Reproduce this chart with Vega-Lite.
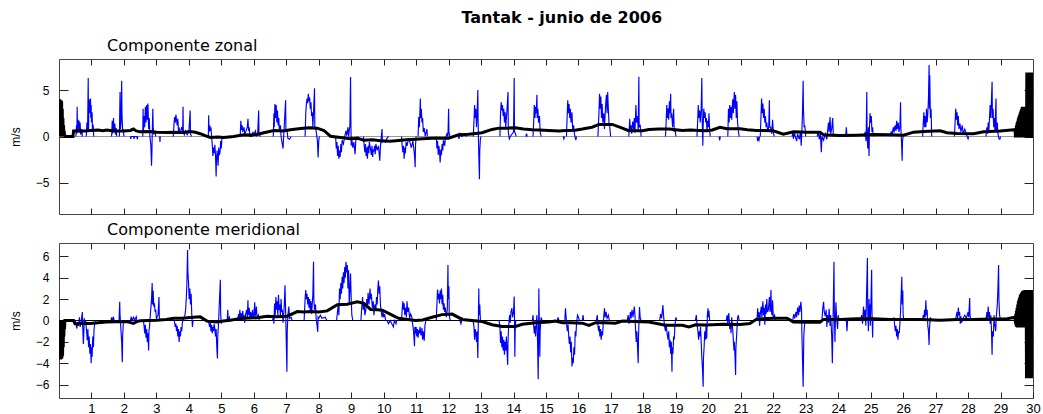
{
"$schema":"https://vega.github.io/schema/vega-lite/v6.json",
"background":"white",
"padding":{"left":8,"top":10,"right":6,"bottom":0},
"title":{"text":"Tantak - junio de 2006","font":"DejaVu Sans","fontSize":16,"fontWeight":"bold","color":"#000","anchor":"middle","dx":37,"offset":11},
"config":{"view":{"stroke":"#444","strokeWidth":1},"axis":{"labelFont":"Liberation Sans","titleFont":"Liberation Sans","labelColor":"#000","titleColor":"#000","tickColor":"#222","grid":false,"domain":false}},
"spacing":6,
"datasets":{
"ub":[
{"t":0.52,"u":0,"s":1},{"t":0.54,"u":1.2,"s":1},{"t":0.55,"u":0.3,"s":1},{"t":0.56,"u":3.2,"s":1},{"t":0.57,"u":0.5,"s":1},{"t":0.59,"u":1.8,"s":1},{"t":0.6,"u":0.8,"s":1},{"t":0.62,"u":1.7,"s":1},{"t":0.63,"u":0.4,"s":1},{"t":0.65,"u":1.5,"s":1},{"t":0.67,"u":0.2,"s":1},{"t":0.7,"u":0.8,"s":1},{"t":0.72,"u":0,"s":1},
{"t":0.84,"u":0,"s":2},{"t":0.86,"u":1.5,"s":2},{"t":0.88,"u":0.6,"s":2},{"t":0.9,"u":6.3,"s":2},{"t":0.91,"u":0.5,"s":2},{"t":0.92,"u":3.5,"s":2},{"t":0.93,"u":4.0,"s":2},{"t":0.94,"u":2.5,"s":2},{"t":0.95,"u":3.7,"s":2},{"t":0.96,"u":3.0,"s":2},{"t":0.97,"u":4.1,"s":2},{"t":0.98,"u":2.0,"s":2},{"t":0.99,"u":3.4,"s":2},{"t":1.0,"u":1.5,"s":2},{"t":1.02,"u":2.6,"s":2},{"t":1.03,"u":0.5,"s":2},{"t":1.05,"u":1.3,"s":2},{"t":1.07,"u":0,"s":2},
{"t":1.62,"u":0,"s":3},{"t":1.64,"u":1.7,"s":3},{"t":1.65,"u":0.3,"s":3},{"t":1.68,"u":2.0,"s":3},{"t":1.69,"u":0.5,"s":3},{"t":1.72,"u":1.4,"s":3},{"t":1.74,"u":0.2,"s":3},{"t":1.76,"u":0.9,"s":3},{"t":1.78,"u":0,"s":3},
{"t":1.86,"u":0,"s":4},{"t":1.88,"u":4.8,"s":4},{"t":1.89,"u":0.8,"s":4},{"t":1.91,"u":1.5,"s":4},{"t":1.93,"u":6.0,"s":4},{"t":1.94,"u":2.5,"s":4},{"t":1.96,"u":0.6,"s":4},{"t":1.98,"u":0.8,"s":4},{"t":2.0,"u":0,"s":4},
{"t":2.2,"u":0,"s":5},{"t":2.21,"u":-0.25,"s":5},{"t":2.23,"u":0,"s":5},{"t":2.3,"u":0,"s":5},{"t":2.31,"u":-0.25,"s":5},{"t":2.33,"u":0,"s":5},{"t":2.4,"u":0,"s":5},{"t":2.41,"u":-0.3,"s":5},{"t":2.43,"u":0,"s":5},
{"t":2.58,"u":0,"s":6},{"t":2.59,"u":3.0,"s":6},{"t":2.6,"u":0.5,"s":6},{"t":2.62,"u":2.2,"s":6},{"t":2.64,"u":1.0,"s":6},{"t":2.66,"u":3.2,"s":6},{"t":2.68,"u":1.5,"s":6},{"t":2.7,"u":3.4,"s":6},{"t":2.72,"u":1.8,"s":6},{"t":2.74,"u":3.55,"s":6},{"t":2.76,"u":0.8,"s":6},{"t":2.78,"u":2.0,"s":6},{"t":2.8,"u":0,"s":6},{"t":2.83,"u":-1.0,"s":6},{"t":2.85,"u":-3.15,"s":6},{"t":2.86,"u":-2.0,"s":6},{"t":2.87,"u":0,"s":6},{"t":2.89,"u":3.0,"s":6},{"t":2.9,"u":1.0,"s":6},{"t":2.92,"u":0.3,"s":6},{"t":2.96,"u":0.5,"s":6},{"t":2.98,"u":0,"s":6},
{"t":3.1,"u":0,"s":7},{"t":3.11,"u":-0.6,"s":7},{"t":3.12,"u":0,"s":7},
{"t":3.52,"u":0,"s":8},{"t":3.54,"u":1.2,"s":8},{"t":3.56,"u":2.1,"s":8},{"t":3.58,"u":1.5,"s":8},{"t":3.6,"u":2.35,"s":8},{"t":3.62,"u":1.8,"s":8},{"t":3.64,"u":1.2,"s":8},{"t":3.66,"u":1.9,"s":8},{"t":3.68,"u":0.6,"s":8},{"t":3.7,"u":1.0,"s":8},{"t":3.72,"u":0.3,"s":8},{"t":3.75,"u":0.6,"s":8},{"t":3.78,"u":1.0,"s":8},{"t":3.81,"u":0.5,"s":8},{"t":3.82,"u":3.2,"s":8},{"t":3.83,"u":0.5,"s":8},{"t":3.86,"u":0.2,"s":8},{"t":3.9,"u":0.6,"s":8},{"t":3.95,"u":0.2,"s":8},{"t":4.0,"u":0.5,"s":8},{"t":4.04,"u":2.8,"s":8},{"t":4.05,"u":0.3,"s":8},{"t":4.08,"u":0,"s":8},
{"t":4.6,"u":0,"s":9},{"t":4.61,"u":2.3,"s":9},{"t":4.62,"u":0.5,"s":9},{"t":4.64,"u":1.2,"s":9},{"t":4.66,"u":0.6,"s":9},{"t":4.68,"u":1.0,"s":9},{"t":4.7,"u":0,"s":9},{"t":4.72,"u":-0.8,"s":9},{"t":4.74,"u":-2.1,"s":9},{"t":4.76,"u":-1.2,"s":9},{"t":4.78,"u":-1.8,"s":9},{"t":4.8,"u":-0.9,"s":9},{"t":4.82,"u":-2.0,"s":9},{"t":4.84,"u":-4.3,"s":9},{"t":4.85,"u":-2.5,"s":9},{"t":4.87,"u":-1.5,"s":9},{"t":4.9,"u":-3.15,"s":9},{"t":4.92,"u":-1.2,"s":9},{"t":4.94,"u":-2.0,"s":9},{"t":4.96,"u":-1.7,"s":9},{"t":4.98,"u":-0.5,"s":9},{"t":5.0,"u":-1.3,"s":9},{"t":5.02,"u":0,"s":9},
{"t":5.58,"u":0,"s":10},{"t":5.6,"u":1.7,"s":10},{"t":5.62,"u":0.7,"s":10},{"t":5.64,"u":1.2,"s":10},{"t":5.66,"u":0.5,"s":10},{"t":5.7,"u":1.0,"s":10},{"t":5.72,"u":0.3,"s":10},{"t":5.76,"u":0.6,"s":10},{"t":5.8,"u":1.0,"s":10},{"t":5.82,"u":1.9,"s":10},{"t":5.84,"u":0.6,"s":10},{"t":5.86,"u":1.0,"s":10},{"t":5.88,"u":0,"s":10},{"t":5.95,"u":0,"s":10},{"t":5.97,"u":0.5,"s":10},{"t":6.0,"u":0.2,"s":10},{"t":6.05,"u":0.6,"s":10},{"t":6.08,"u":0.1,"s":10},{"t":6.12,"u":0.4,"s":10},{"t":6.15,"u":2.8,"s":10},{"t":6.16,"u":0.3,"s":10},{"t":6.2,"u":0,"s":10},
{"t":6.6,"u":0,"s":11},{"t":6.62,"u":2.5,"s":11},{"t":6.63,"u":1.0,"s":11},{"t":6.65,"u":3.5,"s":11},{"t":6.67,"u":2.0,"s":11},{"t":6.69,"u":3.4,"s":11},{"t":6.71,"u":1.5,"s":11},{"t":6.73,"u":2.8,"s":11},{"t":6.75,"u":1.2,"s":11},{"t":6.77,"u":2.0,"s":11},{"t":6.79,"u":0.5,"s":11},{"t":6.82,"u":1.2,"s":11},{"t":6.84,"u":0,"s":11},{"t":6.9,"u":-1.3,"s":11},{"t":6.92,"u":0,"s":11},{"t":6.98,"u":3.9,"s":11},{"t":6.99,"u":0.5,"s":11},{"t":7.02,"u":0.8,"s":11},{"t":7.05,"u":-0.2,"s":11},{"t":7.1,"u":-0.3,"s":11},{"t":7.15,"u":0,"s":11},
{"t":7.58,"u":0,"s":12},{"t":7.6,"u":2.5,"s":12},{"t":7.62,"u":3.5,"s":12},{"t":7.64,"u":4.1,"s":12},{"t":7.66,"u":3.6,"s":12},{"t":7.68,"u":4.6,"s":12},{"t":7.7,"u":3.8,"s":12},{"t":7.72,"u":4.2,"s":12},{"t":7.74,"u":3.0,"s":12},{"t":7.76,"u":3.7,"s":12},{"t":7.78,"u":2.2,"s":12},{"t":7.8,"u":2.6,"s":12},{"t":7.82,"u":1.0,"s":12},{"t":7.87,"u":5.2,"s":12},{"t":7.88,"u":1.0,"s":12},{"t":7.92,"u":0.6,"s":12},{"t":7.96,"u":-0.5,"s":12},{"t":7.98,"u":-2.25,"s":12},{"t":8.0,"u":-0.5,"s":12},{"t":8.02,"u":0,"s":12},
{"t":8.52,"u":0,"s":13},{"t":8.54,"u":-1.3,"s":13},{"t":8.56,"u":-0.6,"s":13},{"t":8.58,"u":-2.1,"s":13},{"t":8.6,"u":-1.0,"s":13},{"t":8.62,"u":-2.4,"s":13},{"t":8.64,"u":-1.5,"s":13},{"t":8.66,"u":-2.2,"s":13},{"t":8.68,"u":-0.8,"s":13},{"t":8.7,"u":-1.7,"s":13},{"t":8.72,"u":-0.4,"s":13},{"t":8.76,"u":-0.8,"s":13},{"t":8.8,"u":0,"s":13},{"t":8.84,"u":0.6,"s":13},{"t":8.86,"u":0.1,"s":13},{"t":8.9,"u":1.0,"s":13},{"t":8.92,"u":0,"s":13},{"t":8.96,"u":1.2,"s":13},{"t":8.98,"u":6.4,"s":13},{"t":8.99,"u":2.0,"s":13},{"t":9.0,"u":-1.0,"s":13},{"t":9.01,"u":0,"s":13},{"t":9.05,"u":-1.2,"s":13},{"t":9.08,"u":-0.6,"s":13},{"t":9.12,"u":-1.9,"s":13},{"t":9.14,"u":-0.5,"s":13},{"t":9.18,"u":0,"s":13},
{"t":9.38,"u":0,"s":14},{"t":9.4,"u":-1.0,"s":14},{"t":9.42,"u":-1.7,"s":14},{"t":9.44,"u":-0.8,"s":14},{"t":9.46,"u":-2.1,"s":14},{"t":9.48,"u":-1.2,"s":14},{"t":9.5,"u":-2.4,"s":14},{"t":9.52,"u":-1.0,"s":14},{"t":9.54,"u":-1.8,"s":14},{"t":9.56,"u":-0.6,"s":14},{"t":9.6,"u":-1.5,"s":14},{"t":9.62,"u":-2.0,"s":14},{"t":9.64,"u":-1.0,"s":14},{"t":9.66,"u":-2.2,"s":14},{"t":9.68,"u":-1.4,"s":14},{"t":9.7,"u":-1.6,"s":14},{"t":9.72,"u":-1.0,"s":14},{"t":9.74,"u":-1.9,"s":14},{"t":9.76,"u":-0.8,"s":14},{"t":9.8,"u":-1.5,"s":14},{"t":9.84,"u":-1.0,"s":14},{"t":9.88,"u":-2.6,"s":14},{"t":9.9,"u":-1.2,"s":14},{"t":9.92,"u":-0.3,"s":14},{"t":9.95,"u":0.8,"s":14},{"t":9.96,"u":-0.6,"s":14},{"t":10.0,"u":-0.4,"s":14},{"t":10.05,"u":-0.6,"s":14},{"t":10.1,"u":-0.2,"s":14},{"t":10.15,"u":0,"s":14},
{"t":10.55,"u":0,"s":15},{"t":10.57,"u":-1.0,"s":15},{"t":10.59,"u":-1.7,"s":15},{"t":10.61,"u":-1.0,"s":15},{"t":10.63,"u":-2.4,"s":15},{"t":10.65,"u":-1.2,"s":15},{"t":10.67,"u":-1.8,"s":15},{"t":10.69,"u":-0.6,"s":15},{"t":10.72,"u":-1.0,"s":15},{"t":10.76,"u":-0.3,"s":15},{"t":10.8,"u":-0.5,"s":15},{"t":10.85,"u":-1.2,"s":15},{"t":10.9,"u":-0.5,"s":15},{"t":10.95,"u":-2.0,"s":15},{"t":10.97,"u":-3.3,"s":15},{"t":10.98,"u":-1.0,"s":15},{"t":11.0,"u":0,"s":15},
{"t":11.06,"u":0,"s":16},{"t":11.08,"u":2.1,"s":16},{"t":11.1,"u":1.0,"s":16},{"t":11.13,"u":4.1,"s":16},{"t":11.14,"u":2.0,"s":16},{"t":11.16,"u":3.0,"s":16},{"t":11.18,"u":1.5,"s":16},{"t":11.2,"u":2.0,"s":16},{"t":11.22,"u":0.5,"s":16},{"t":11.25,"u":0.9,"s":16},{"t":11.28,"u":0,"s":16},{"t":11.33,"u":0.8,"s":16},{"t":11.35,"u":0,"s":16},
{"t":11.62,"u":0,"s":17},{"t":11.64,"u":-1.3,"s":17},{"t":11.66,"u":-0.5,"s":17},{"t":11.68,"u":-2.0,"s":17},{"t":11.7,"u":-1.0,"s":17},{"t":11.72,"u":-1.6,"s":17},{"t":11.74,"u":-2.8,"s":17},{"t":11.76,"u":-1.4,"s":17},{"t":11.78,"u":-2.0,"s":17},{"t":11.8,"u":-0.8,"s":17},{"t":11.82,"u":-1.5,"s":17},{"t":11.84,"u":-0.4,"s":17},{"t":11.88,"u":-1.0,"s":17},{"t":11.9,"u":-0.2,"s":17},{"t":11.95,"u":0.3,"s":17},{"t":11.98,"u":0,"s":17},{"t":12.0,"u":3.0,"s":17},{"t":12.01,"u":0.5,"s":17},{"t":12.04,"u":0,"s":17},
{"t":12.3,"u":0,"s":18},{"t":12.32,"u":-0.25,"s":18},{"t":12.35,"u":0.3,"s":18},{"t":12.4,"u":0,"s":18},{"t":12.5,"u":0.2,"s":18},{"t":12.55,"u":0,"s":18},
{"t":12.76,"u":0,"s":19},{"t":12.78,"u":1.5,"s":19},{"t":12.8,"u":3.4,"s":19},{"t":12.82,"u":2.0,"s":19},{"t":12.84,"u":3.0,"s":19},{"t":12.86,"u":1.0,"s":19},{"t":12.88,"u":2.5,"s":19},{"t":12.9,"u":5.0,"s":19},{"t":12.91,"u":1.5,"s":19},{"t":12.93,"u":-2.0,"s":19},{"t":12.95,"u":-4.6,"s":19},{"t":12.96,"u":-1.5,"s":19},{"t":12.98,"u":-0.25,"s":19},{"t":13.0,"u":0,"s":19},
{"t":13.58,"u":0,"s":20},{"t":13.6,"u":2.5,"s":20},{"t":13.62,"u":3.7,"s":20},{"t":13.64,"u":2.8,"s":20},{"t":13.66,"u":3.4,"s":20},{"t":13.68,"u":2.2,"s":20},{"t":13.7,"u":3.0,"s":20},{"t":13.72,"u":1.5,"s":20},{"t":13.74,"u":2.6,"s":20},{"t":13.76,"u":1.0,"s":20},{"t":13.78,"u":2.0,"s":20},{"t":13.8,"u":3.0,"s":20},{"t":13.83,"u":4.8,"s":20},{"t":13.84,"u":0.5,"s":20},{"t":13.87,"u":-0.25,"s":20},{"t":13.9,"u":0,"s":20},{"t":13.96,"u":0.3,"s":20},{"t":14.0,"u":0.5,"s":20},{"t":14.02,"u":6.3,"s":20},{"t":14.03,"u":0.5,"s":20},{"t":14.06,"u":0.3,"s":20},{"t":14.08,"u":0,"s":20},
{"t":14.38,"u":0,"s":21},{"t":14.4,"u":0.3,"s":21},{"t":14.42,"u":0,"s":21},
{"t":14.6,"u":0,"s":22},{"t":14.62,"u":1.5,"s":22},{"t":14.64,"u":3.4,"s":22},{"t":14.66,"u":2.0,"s":22},{"t":14.68,"u":3.2,"s":22},{"t":14.7,"u":2.5,"s":22},{"t":14.72,"u":4.5,"s":22},{"t":14.73,"u":2.0,"s":22},{"t":14.75,"u":3.0,"s":22},{"t":14.77,"u":1.5,"s":22},{"t":14.8,"u":2.2,"s":22},{"t":14.82,"u":0.5,"s":22},{"t":14.85,"u":0,"s":22},
{"t":15.53,"u":0,"s":23},{"t":15.55,"u":-0.25,"s":23},{"t":15.57,"u":0,"s":23},
{"t":15.63,"u":0,"s":24},{"t":15.65,"u":2.0,"s":24},{"t":15.67,"u":3.9,"s":24},{"t":15.69,"u":2.5,"s":24},{"t":15.71,"u":3.5,"s":24},{"t":15.73,"u":2.0,"s":24},{"t":15.75,"u":3.0,"s":24},{"t":15.77,"u":1.5,"s":24},{"t":15.8,"u":2.6,"s":24},{"t":15.82,"u":0.8,"s":24},{"t":15.85,"u":1.2,"s":24},{"t":15.88,"u":0.2,"s":24},{"t":15.92,"u":-0.4,"s":24},{"t":15.94,"u":0,"s":24},
{"t":16.6,"u":0,"s":25},{"t":16.63,"u":2.5,"s":25},{"t":16.65,"u":4.6,"s":25},{"t":16.67,"u":3.0,"s":25},{"t":16.69,"u":4.3,"s":25},{"t":16.71,"u":2.0,"s":25},{"t":16.73,"u":3.5,"s":25},{"t":16.75,"u":1.5,"s":25},{"t":16.78,"u":2.5,"s":25},{"t":16.8,"u":0.8,"s":25},{"t":16.83,"u":3.0,"s":25},{"t":16.86,"u":4.5,"s":25},{"t":16.88,"u":2.5,"s":25},{"t":16.9,"u":4.8,"s":25},{"t":16.92,"u":3.0,"s":25},{"t":16.94,"u":1.5,"s":25},{"t":16.96,"u":1.2,"s":25},{"t":16.99,"u":0,"s":25},
{"t":17.55,"u":0,"s":26},{"t":17.58,"u":1.9,"s":26},{"t":17.6,"u":0.5,"s":26},{"t":17.62,"u":1.2,"s":26},{"t":17.64,"u":0.3,"s":26},{"t":17.67,"u":1.6,"s":26},{"t":17.7,"u":0.8,"s":26},{"t":17.72,"u":2.0,"s":26},{"t":17.74,"u":0.4,"s":26},{"t":17.77,"u":3.4,"s":26},{"t":17.79,"u":1.5,"s":26},{"t":17.82,"u":2.2,"s":26},{"t":17.84,"u":0.5,"s":26},{"t":17.86,"u":6.45,"s":26},{"t":17.87,"u":1.0,"s":26},{"t":17.9,"u":1.3,"s":26},{"t":17.93,"u":0,"s":26},
{"t":18.68,"u":0,"s":27},{"t":18.7,"u":1.5,"s":27},{"t":18.72,"u":3.4,"s":27},{"t":18.74,"u":2.0,"s":27},{"t":18.76,"u":3.0,"s":27},{"t":18.78,"u":1.8,"s":27},{"t":18.8,"u":3.8,"s":27},{"t":18.82,"u":2.5,"s":27},{"t":18.84,"u":4.6,"s":27},{"t":18.85,"u":2.0,"s":27},{"t":18.87,"u":2.5,"s":27},{"t":18.9,"u":1.0,"s":27},{"t":18.93,"u":3.0,"s":27},{"t":18.95,"u":0.5,"s":27},{"t":18.98,"u":0.8,"s":27},{"t":19.0,"u":0,"s":27},
{"t":19.65,"u":0,"s":28},{"t":19.67,"u":1.5,"s":28},{"t":19.69,"u":3.4,"s":28},{"t":19.71,"u":2.0,"s":28},{"t":19.73,"u":2.8,"s":28},{"t":19.75,"u":1.5,"s":28},{"t":19.78,"u":3.0,"s":28},{"t":19.8,"u":6.3,"s":28},{"t":19.81,"u":2.0,"s":28},{"t":19.83,"u":-1.0,"s":28},{"t":19.84,"u":1.0,"s":28},{"t":19.86,"u":3.0,"s":28},{"t":19.88,"u":2.0,"s":28},{"t":19.9,"u":2.6,"s":28},{"t":19.92,"u":1.5,"s":28},{"t":19.94,"u":2.0,"s":28},{"t":19.96,"u":0.5,"s":28},{"t":19.98,"u":1.7,"s":28},{"t":20.0,"u":1.0,"s":28},{"t":20.02,"u":2.5,"s":28},{"t":20.04,"u":0.6,"s":28},{"t":20.06,"u":0,"s":28},
{"t":20.33,"u":0,"s":29},{"t":20.35,"u":-0.43,"s":29},{"t":20.37,"u":0,"s":29},
{"t":20.6,"u":0,"s":30},{"t":20.62,"u":3.0,"s":30},{"t":20.64,"u":1.5,"s":30},{"t":20.66,"u":3.4,"s":30},{"t":20.68,"u":2.0,"s":30},{"t":20.7,"u":3.2,"s":30},{"t":20.72,"u":1.8,"s":30},{"t":20.75,"u":4.0,"s":30},{"t":20.77,"u":2.5,"s":30},{"t":20.8,"u":4.8,"s":30},{"t":20.82,"u":3.0,"s":30},{"t":20.84,"u":4.5,"s":30},{"t":20.86,"u":2.0,"s":30},{"t":20.88,"u":3.8,"s":30},{"t":20.9,"u":1.5,"s":30},{"t":20.93,"u":0.5,"s":30},{"t":20.95,"u":0,"s":30},
{"t":21.5,"u":0,"s":31},{"t":21.52,"u":-0.5,"s":31},{"t":21.54,"u":-0.2,"s":31},{"t":21.56,"u":-0.4,"s":31},{"t":21.58,"u":0,"s":31},
{"t":21.6,"u":0,"s":32},{"t":21.62,"u":2.0,"s":32},{"t":21.64,"u":4.1,"s":32},{"t":21.66,"u":2.5,"s":32},{"t":21.68,"u":3.55,"s":32},{"t":21.7,"u":2.0,"s":32},{"t":21.72,"u":3.0,"s":32},{"t":21.74,"u":1.5,"s":32},{"t":21.76,"u":2.2,"s":32},{"t":21.78,"u":1.0,"s":32},{"t":21.8,"u":1.5,"s":32},{"t":21.83,"u":0.5,"s":32},{"t":21.86,"u":1.0,"s":32},{"t":21.88,"u":3.9,"s":32},{"t":21.89,"u":1.0,"s":32},{"t":21.92,"u":1.0,"s":32},{"t":21.95,"u":0.3,"s":32},{"t":21.98,"u":1.8,"s":32},{"t":22.0,"u":0.5,"s":32},{"t":22.03,"u":0,"s":32},
{"t":22.58,"u":0,"s":33},{"t":22.6,"u":0.5,"s":33},{"t":22.62,"u":-0.25,"s":33},{"t":22.65,"u":0.4,"s":33},{"t":22.68,"u":0,"s":33},{"t":22.72,"u":-0.5,"s":33},{"t":22.75,"u":0.3,"s":33},{"t":22.8,"u":-0.3,"s":33},{"t":22.84,"u":0.5,"s":33},{"t":22.86,"u":-1.0,"s":33},{"t":22.88,"u":0.5,"s":33},{"t":22.9,"u":2.5,"s":33},{"t":22.92,"u":6.0,"s":33},{"t":22.93,"u":3.0,"s":33},{"t":22.95,"u":1.0,"s":33},{"t":22.97,"u":1.2,"s":33},{"t":23.0,"u":0,"s":33},
{"t":23.35,"u":0,"s":34},{"t":23.38,"u":0.5,"s":34},{"t":23.42,"u":-0.3,"s":34},{"t":23.45,"u":0.5,"s":34},{"t":23.48,"u":-1.7,"s":34},{"t":23.5,"u":0,"s":34},{"t":23.55,"u":-0.4,"s":34},{"t":23.6,"u":0.3,"s":34},{"t":23.65,"u":-0.3,"s":34},{"t":23.7,"u":1.5,"s":34},{"t":23.72,"u":0.5,"s":34},{"t":23.75,"u":2.1,"s":34},{"t":23.77,"u":0.3,"s":34},{"t":23.8,"u":0.8,"s":34},{"t":23.83,"u":2.0,"s":34},{"t":23.85,"u":0.2,"s":34},{"t":23.88,"u":0,"s":34},
{"t":24.23,"u":0,"s":35},{"t":24.25,"u":1.0,"s":35},{"t":24.27,"u":0,"s":35},
{"t":24.8,"u":0,"s":36},{"t":24.83,"u":0.5,"s":36},{"t":24.86,"u":-0.5,"s":36},{"t":24.88,"u":4.8,"s":36},{"t":24.89,"u":0.5,"s":36},{"t":24.91,"u":-1.3,"s":36},{"t":24.93,"u":1.0,"s":36},{"t":24.95,"u":-2.1,"s":36},{"t":24.96,"u":0.5,"s":36},{"t":24.98,"u":2.5,"s":36},{"t":25.0,"u":1.5,"s":36},{"t":25.02,"u":2.2,"s":36},{"t":25.04,"u":0.5,"s":36},{"t":25.06,"u":1.0,"s":36},{"t":25.08,"u":0,"s":36},
{"t":25.6,"u":0,"s":37},{"t":25.63,"u":0.5,"s":37},{"t":25.66,"u":0.3,"s":37},{"t":25.7,"u":1.0,"s":37},{"t":25.72,"u":0.4,"s":37},{"t":25.75,"u":1.2,"s":37},{"t":25.78,"u":0.6,"s":37},{"t":25.8,"u":1.7,"s":37},{"t":25.82,"u":0.8,"s":37},{"t":25.85,"u":1.5,"s":37},{"t":25.87,"u":0.5,"s":37},{"t":25.9,"u":1.0,"s":37},{"t":25.92,"u":3.7,"s":37},{"t":25.93,"u":1.0,"s":37},{"t":25.95,"u":-0.5,"s":37},{"t":25.97,"u":-2.6,"s":37},{"t":25.98,"u":-0.5,"s":37},{"t":26.0,"u":0,"s":37},
{"t":26.6,"u":0,"s":38},{"t":26.62,"u":1.5,"s":38},{"t":26.64,"u":2.6,"s":38},{"t":26.66,"u":1.0,"s":38},{"t":26.68,"u":2.2,"s":38},{"t":26.7,"u":1.0,"s":38},{"t":26.72,"u":3.0,"s":38},{"t":26.74,"u":1.5,"s":38},{"t":26.76,"u":2.5,"s":38},{"t":26.78,"u":4.0,"s":38},{"t":26.8,"u":7.7,"s":38},{"t":26.81,"u":3.0,"s":38},{"t":26.82,"u":6.6,"s":38},{"t":26.84,"u":2.0,"s":38},{"t":26.86,"u":3.0,"s":38},{"t":26.88,"u":0,"s":38},
{"t":27.58,"u":0,"s":39},{"t":27.6,"u":1.5,"s":39},{"t":27.62,"u":3.0,"s":39},{"t":27.64,"u":1.8,"s":39},{"t":27.66,"u":2.6,"s":39},{"t":27.68,"u":1.2,"s":39},{"t":27.7,"u":2.2,"s":39},{"t":27.72,"u":0.8,"s":39},{"t":27.75,"u":1.4,"s":39},{"t":27.78,"u":0.5,"s":39},{"t":27.82,"u":1.2,"s":39},{"t":27.85,"u":0.3,"s":39},{"t":27.9,"u":0.8,"s":39},{"t":27.95,"u":0.2,"s":39},{"t":28.0,"u":-0.25,"s":39},{"t":28.02,"u":0,"s":39},
{"t":28.55,"u":0,"s":40},{"t":28.58,"u":1.0,"s":40},{"t":28.6,"u":0.3,"s":40},{"t":28.62,"u":1.5,"s":40},{"t":28.64,"u":0.5,"s":40},{"t":28.66,"u":2.0,"s":40},{"t":28.68,"u":3.4,"s":40},{"t":28.7,"u":2.0,"s":40},{"t":28.74,"u":5.9,"s":40},{"t":28.75,"u":2.0,"s":40},{"t":28.77,"u":3.0,"s":40},{"t":28.79,"u":1.0,"s":40},{"t":28.81,"u":2.0,"s":40},{"t":28.83,"u":0.5,"s":40},{"t":28.86,"u":4.1,"s":40},{"t":28.87,"u":0.5,"s":40},{"t":28.9,"u":1.5,"s":40},{"t":28.92,"u":0.3,"s":40},{"t":28.95,"u":-0.25,"s":40},{"t":28.98,"u":-0.3,"s":40},{"t":29.0,"u":0,"s":40}
],
"um":[
{"t":0,"u":4.0},{"t":0.01,"u":0},{"t":0.02,"u":4.0},{"t":0.03,"u":0},{"t":0.04,"u":3.9},{"t":0.05,"u":0},{"t":0.06,"u":3.9},{"t":0.07,"u":0},{"t":0.08,"u":3.8},{"t":0.09,"u":0},{"t":0.1,"u":3.0},{"t":0.11,"u":0},{"t":0.12,"u":2.0},{"t":0.13,"u":0},{"t":0.14,"u":1.2},{"t":0.15,"u":0},{"t":0.16,"u":0.6},{"t":0.17,"u":0},{"t":0.18,"u":0.2},{"t":0.19,"u":0},{"t":0.43,"u":0},{"t":0.45,"u":0.6},{"t":0.6,"u":0.62},{"t":0.8,"u":0.58},{"t":0.96,"u":0.65},{"t":1.2,"u":0.7},{"t":1.35,"u":0.62},{"t":1.47,"u":0.69},{"t":1.7,"u":0.6},{"t":1.99,"u":0.58},{"t":2.2,"u":0.65},{"t":2.29,"u":0.8},{"t":2.38,"u":0.6},{"t":2.5,"u":0.5},{"t":2.8,"u":0.55},{"t":3.01,"u":0.47},{"t":3.3,"u":0.42},{"t":3.53,"u":0.47},{"t":3.8,"u":0.42},{"t":4.04,"u":0.54},{"t":4.2,"u":0.45},{"t":4.35,"u":0.3},{"t":4.5,"u":0.1},{"t":4.66,"u":-0.1},{"t":4.9,"u":-0.05},{"t":5.07,"u":-0.1},{"t":5.38,"u":0},{"t":5.69,"u":0.18},{"t":5.9,"u":0.15},{"t":6.1,"u":0.22},{"t":6.31,"u":0.4},{"t":6.62,"u":0.65},{"t":6.9,"u":0.6},{"t":7.13,"u":0.72},{"t":7.44,"u":0.87},{"t":7.7,"u":0.95},{"t":7.95,"u":0.9},{"t":8.16,"u":0.65},{"t":8.36,"u":0.03},{"t":8.67,"u":-0.1},{"t":8.98,"u":-0.25},{"t":9.2,"u":-0.2},{"t":9.39,"u":-0.4},{"t":9.65,"u":-0.35},{"t":9.91,"u":-0.47},{"t":10.2,"u":-0.5},{"t":10.46,"u":-0.43},{"t":10.7,"u":-0.35},{"t":10.98,"u":-0.3},{"t":11.2,"u":-0.25},{"t":11.49,"u":-0.18},{"t":11.75,"u":-0.2},{"t":12.0,"u":-0.18},{"t":12.31,"u":0.18},{"t":12.62,"u":0.25},{"t":13.03,"u":0.4},{"t":13.34,"u":0.76},{"t":13.55,"u":0.9},{"t":13.8,"u":0.9},{"t":14.06,"u":0.94},{"t":14.3,"u":0.8},{"t":14.57,"u":0.72},{"t":14.8,"u":0.7},{"t":15.09,"u":0.65},{"t":15.4,"u":0.58},{"t":15.6,"u":0.65},{"t":15.9,"u":0.68},{"t":16.12,"u":0.8},{"t":16.42,"u":1.0},{"t":16.63,"u":1.3},{"t":17.04,"u":1.3},{"t":17.35,"u":0.9},{"t":17.55,"u":0.62},{"t":17.97,"u":0.62},{"t":18.17,"u":0.76},{"t":18.48,"u":0.8},{"t":18.79,"u":0.8},{"t":19.2,"u":0.65},{"t":19.45,"u":0.7},{"t":19.71,"u":0.65},{"t":19.95,"u":0.62},{"t":20.12,"u":0.7},{"t":20.36,"u":1.0},{"t":20.57,"u":0.83},{"t":20.98,"u":0.83},{"t":21.2,"u":0.72},{"t":21.49,"u":0.65},{"t":22.0,"u":0.62},{"t":22.31,"u":0.25},{"t":22.62,"u":0.5},{"t":23.03,"u":0.47},{"t":23.44,"u":0.47},{"t":23.55,"u":0.18},{"t":24.06,"u":0.1},{"t":24.57,"u":0.14},{"t":25.09,"u":0.22},{"t":25.6,"u":0.18},{"t":26.01,"u":0.14},{"t":26.32,"u":0.47},{"t":26.63,"u":0.55},{"t":27.14,"u":0.62},{"t":27.35,"u":0.4},{"t":27.66,"u":0.33},{"t":28.17,"u":0.3},{"t":28.48,"u":0.5},{"t":28.99,"u":0.58},{"t":29.4,"u":0.72},
{"t":29.45,"u":0.6},{"t":29.46,"u":-0.1},{"t":29.47,"u":0.9},{"t":29.48,"u":-0.1},{"t":29.49,"u":1.2},{"t":29.5,"u":-0.1},{"t":29.51,"u":1.5},{"t":29.52,"u":-0.1},{"t":29.53,"u":1.7},{"t":29.54,"u":-0.1},{"t":29.55,"u":2.0},{"t":29.56,"u":-0.1},{"t":29.57,"u":2.2},{"t":29.58,"u":-0.1},{"t":29.59,"u":2.4},{"t":29.6,"u":-0.1},{"t":29.61,"u":2.6},{"t":29.62,"u":-0.1},{"t":29.63,"u":2.8},{"t":29.64,"u":-0.1},{"t":29.65,"u":3.0},{"t":29.66,"u":-0.1},{"t":29.67,"u":3.2},{"t":29.68,"u":-0.1},{"t":29.69,"u":3.2},{"t":29.7,"u":-0.1},{"t":29.71,"u":3.2},{"t":29.72,"u":-0.1},{"t":29.73,"u":3.2},{"t":29.74,"u":-0.1},{"t":29.75,"u":3.2},{"t":29.76,"u":-0.1},{"t":29.77,"u":3.2},{"t":29.78,"u":-0.1},{"t":29.79,"u":3.2},{"t":29.8,"u":-0.1},{"t":29.81,"u":6.9},{"t":29.82,"u":-0.15},{"t":29.83,"u":6.9},{"t":29.84,"u":-0.15},{"t":29.85,"u":6.9},{"t":29.86,"u":-0.15},{"t":29.87,"u":6.9},{"t":29.88,"u":-0.15},{"t":29.89,"u":6.9},{"t":29.9,"u":-0.15},{"t":29.91,"u":6.9},{"t":29.92,"u":-0.15},{"t":29.93,"u":6.9},{"t":29.94,"u":-0.15},{"t":29.95,"u":6.9},{"t":29.96,"u":-0.15},{"t":29.97,"u":6.9},{"t":29.98,"u":-0.15},{"t":29.99,"u":6.9},{"t":30.0,"u":0.5}
],
"vb":[
{"t":0.5,"v":0,"s":1},{"t":0.52,"v":-0.3,"s":1},{"t":0.55,"v":-0.75,"s":1},{"t":0.57,"v":-0.2,"s":1},{"t":0.6,"v":-0.5,"s":1},{"t":0.63,"v":0.3,"s":1},{"t":0.65,"v":-0.6,"s":1},{"t":0.68,"v":-0.2,"s":1},{"t":0.7,"v":0.3,"s":1},{"t":0.72,"v":0.8,"s":1},{"t":0.73,"v":-0.5,"s":1},{"t":0.75,"v":-2.2,"s":1},{"t":0.76,"v":-1.5,"s":1},{"t":0.78,"v":0.2,"s":1},{"t":0.8,"v":-0.4,"s":1},{"t":0.82,"v":0,"s":1},{"t":0.85,"v":-1.0,"s":1},{"t":0.87,"v":-1.85,"s":1},{"t":0.89,"v":-0.8,"s":1},{"t":0.91,"v":-2.5,"s":1},{"t":0.93,"v":-1.5,"s":1},{"t":0.95,"v":-3.1,"s":1},{"t":0.97,"v":-2.2,"s":1},{"t":0.99,"v":-4.0,"s":1},{"t":1.0,"v":-2.5,"s":1},{"t":1.02,"v":-3.4,"s":1},{"t":1.04,"v":-1.5,"s":1},{"t":1.06,"v":-2.5,"s":1},{"t":1.08,"v":-0.8,"s":1},{"t":1.1,"v":-0.3,"s":1},{"t":1.12,"v":0,"s":1},
{"t":1.6,"v":0,"s":2},{"t":1.62,"v":0.3,"s":2},{"t":1.64,"v":-0.2,"s":2},{"t":1.67,"v":0.35,"s":2},{"t":1.7,"v":0,"s":2},{"t":1.85,"v":0,"s":2},{"t":1.87,"v":1.75,"s":2},{"t":1.88,"v":0.5,"s":2},{"t":1.9,"v":-0.5,"s":2},{"t":1.93,"v":-2.0,"s":2},{"t":1.95,"v":-3.9,"s":2},{"t":1.96,"v":-1.5,"s":2},{"t":1.98,"v":-0.3,"s":2},{"t":2.0,"v":0,"s":2},
{"t":2.2,"v":0,"s":3},{"t":2.23,"v":0.35,"s":3},{"t":2.25,"v":0,"s":3},{"t":2.3,"v":0.3,"s":3},{"t":2.33,"v":0,"s":3},{"t":2.38,"v":0.35,"s":3},{"t":2.4,"v":0,"s":3},
{"t":2.6,"v":0,"s":4},{"t":2.62,"v":-0.5,"s":4},{"t":2.64,"v":-1.2,"s":4},{"t":2.66,"v":-0.4,"s":4},{"t":2.68,"v":-1.6,"s":4},{"t":2.7,"v":-0.8,"s":4},{"t":2.72,"v":-2.0,"s":4},{"t":2.74,"v":-1.2,"s":4},{"t":2.76,"v":-2.8,"s":4},{"t":2.77,"v":-1.0,"s":4},{"t":2.79,"v":-0.5,"s":4},{"t":2.82,"v":0.8,"s":4},{"t":2.85,"v":2.0,"s":4},{"t":2.87,"v":3.5,"s":4},{"t":2.88,"v":1.5,"s":4},{"t":2.9,"v":2.8,"s":4},{"t":2.92,"v":1.3,"s":4},{"t":2.94,"v":1.6,"s":4},{"t":2.96,"v":0.8,"s":4},{"t":2.98,"v":1.0,"s":4},{"t":3.0,"v":0.2,"s":4},{"t":3.05,"v":0.5,"s":4},{"t":3.08,"v":2.2,"s":4},{"t":3.09,"v":0.3,"s":4},{"t":3.12,"v":0,"s":4},
{"t":3.55,"v":0,"s":5},{"t":3.58,"v":-0.6,"s":5},{"t":3.6,"v":-0.3,"s":5},{"t":3.62,"v":-1.0,"s":5},{"t":3.64,"v":-0.5,"s":5},{"t":3.66,"v":-1.5,"s":5},{"t":3.68,"v":-0.8,"s":5},{"t":3.7,"v":-2.0,"s":5},{"t":3.72,"v":-1.0,"s":5},{"t":3.74,"v":-1.5,"s":5},{"t":3.76,"v":-0.6,"s":5},{"t":3.78,"v":-1.0,"s":5},{"t":3.8,"v":-0.2,"s":5},{"t":3.85,"v":0.3,"s":5},{"t":3.88,"v":0.5,"s":5},{"t":3.9,"v":1.0,"s":5},{"t":3.92,"v":2.0,"s":5},{"t":3.94,"v":3.5,"s":5},{"t":3.96,"v":6.6,"s":5},{"t":3.97,"v":4.5,"s":5},{"t":3.99,"v":3.5,"s":5},{"t":4.01,"v":2.0,"s":5},{"t":4.03,"v":3.0,"s":5},{"t":4.05,"v":1.5,"s":5},{"t":4.07,"v":2.5,"s":5},{"t":4.09,"v":0.5,"s":5},{"t":4.11,"v":-0.6,"s":5},{"t":4.13,"v":0,"s":5},
{"t":4.6,"v":0,"s":6},{"t":4.62,"v":-0.3,"s":6},{"t":4.64,"v":-0.6,"s":6},{"t":4.66,"v":-0.2,"s":6},{"t":4.68,"v":-1.0,"s":6},{"t":4.7,"v":-0.4,"s":6},{"t":4.72,"v":-1.2,"s":6},{"t":4.74,"v":-0.6,"s":6},{"t":4.76,"v":-1.0,"s":6},{"t":4.78,"v":-0.3,"s":6},{"t":4.8,"v":-0.8,"s":6},{"t":4.82,"v":-1.5,"s":6},{"t":4.84,"v":-0.8,"s":6},{"t":4.86,"v":-2.5,"s":6},{"t":4.88,"v":-3.55,"s":6},{"t":4.89,"v":-1.5,"s":6},{"t":4.91,"v":-0.5,"s":6},{"t":4.93,"v":1.0,"s":6},{"t":4.97,"v":3.8,"s":6},{"t":4.98,"v":0.5,"s":6},{"t":5.0,"v":-0.3,"s":6},{"t":5.02,"v":0,"s":6},
{"t":5.18,"v":0,"s":7},{"t":5.2,"v":1.0,"s":7},{"t":5.21,"v":0,"s":7},{"t":5.25,"v":0.3,"s":7},{"t":5.27,"v":0,"s":7},
{"t":5.5,"v":0,"s":8},{"t":5.53,"v":0.6,"s":8},{"t":5.55,"v":0.2,"s":8},{"t":5.57,"v":1.0,"s":8},{"t":5.59,"v":0.3,"s":8},{"t":5.61,"v":0.7,"s":8},{"t":5.63,"v":0.1,"s":8},{"t":5.66,"v":0.9,"s":8},{"t":5.68,"v":0.3,"s":8},{"t":5.7,"v":0.5,"s":8},{"t":5.72,"v":-0.2,"s":8},{"t":5.75,"v":0.6,"s":8},{"t":5.78,"v":1.0,"s":8},{"t":5.8,"v":0.3,"s":8},{"t":5.82,"v":1.9,"s":8},{"t":5.83,"v":0.5,"s":8},{"t":5.86,"v":1.2,"s":8},{"t":5.88,"v":0.2,"s":8},{"t":5.9,"v":0.8,"s":8},{"t":5.93,"v":0.3,"s":8},{"t":5.96,"v":1.0,"s":8},{"t":5.98,"v":0.2,"s":8},{"t":6.0,"v":0.5,"s":8},{"t":6.03,"v":1.7,"s":8},{"t":6.04,"v":0.3,"s":8},{"t":6.08,"v":1.3,"s":8},{"t":6.1,"v":0.2,"s":8},{"t":6.14,"v":0.5,"s":8},{"t":6.17,"v":0,"s":8},
{"t":6.58,"v":0,"s":9},{"t":6.6,"v":0.5,"s":9},{"t":6.62,"v":-0.3,"s":9},{"t":6.64,"v":1.6,"s":9},{"t":6.66,"v":0.5,"s":9},{"t":6.68,"v":2.2,"s":9},{"t":6.7,"v":1.0,"s":9},{"t":6.72,"v":1.8,"s":9},{"t":6.74,"v":0.5,"s":9},{"t":6.76,"v":2.4,"s":9},{"t":6.78,"v":1.0,"s":9},{"t":6.8,"v":1.5,"s":9},{"t":6.82,"v":0.3,"s":9},{"t":6.84,"v":2.0,"s":9},{"t":6.86,"v":0.8,"s":9},{"t":6.88,"v":1.0,"s":9},{"t":6.9,"v":-0.2,"s":9},{"t":6.92,"v":0.5,"s":9},{"t":6.94,"v":1.5,"s":9},{"t":6.96,"v":3.3,"s":9},{"t":6.98,"v":1.0,"s":9},{"t":7.0,"v":-2.0,"s":9},{"t":7.02,"v":-4.8,"s":9},{"t":7.03,"v":-1.0,"s":9},{"t":7.05,"v":0.5,"s":9},{"t":7.08,"v":1.3,"s":9},{"t":7.1,"v":0.2,"s":9},{"t":7.15,"v":0.3,"s":9},{"t":7.18,"v":0,"s":9},
{"t":7.55,"v":0,"s":10},{"t":7.58,"v":2.0,"s":10},{"t":7.6,"v":2.85,"s":10},{"t":7.62,"v":2.0,"s":10},{"t":7.64,"v":2.5,"s":10},{"t":7.66,"v":1.5,"s":10},{"t":7.68,"v":2.2,"s":10},{"t":7.7,"v":1.2,"s":10},{"t":7.72,"v":2.0,"s":10},{"t":7.74,"v":0.8,"s":10},{"t":7.76,"v":1.8,"s":10},{"t":7.78,"v":0.6,"s":10},{"t":7.8,"v":1.5,"s":10},{"t":7.82,"v":2.5,"s":10},{"t":7.84,"v":5.5,"s":10},{"t":7.85,"v":2.0,"s":10},{"t":7.87,"v":1.0,"s":10},{"t":7.9,"v":1.5,"s":10},{"t":7.92,"v":0.2,"s":10},{"t":7.95,"v":-0.5,"s":10},{"t":7.97,"v":-1.06,"s":10},{"t":7.98,"v":0.3,"s":10},{"t":8.0,"v":0.2,"s":10},{"t":8.05,"v":0.5,"s":10},{"t":8.1,"v":0.2,"s":10},{"t":8.2,"v":0.3,"s":10},{"t":8.25,"v":0,"s":10},
{"t":8.55,"v":0,"s":11},{"t":8.6,"v":1.5,"s":11},{"t":8.62,"v":0.5,"s":11},{"t":8.64,"v":3.0,"s":11},{"t":8.66,"v":2.0,"s":11},{"t":8.68,"v":3.5,"s":11},{"t":8.7,"v":2.5,"s":11},{"t":8.72,"v":4.1,"s":11},{"t":8.74,"v":3.0,"s":11},{"t":8.76,"v":4.5,"s":11},{"t":8.78,"v":3.5,"s":11},{"t":8.8,"v":5.0,"s":11},{"t":8.82,"v":4.0,"s":11},{"t":8.84,"v":5.5,"s":11},{"t":8.86,"v":4.5,"s":11},{"t":8.88,"v":5.2,"s":11},{"t":8.9,"v":3.0,"s":11},{"t":8.92,"v":4.7,"s":11},{"t":8.94,"v":1.5,"s":11},{"t":8.96,"v":3.0,"s":11},{"t":8.98,"v":4.4,"s":11},{"t":9.0,"v":2.0,"s":11},{"t":9.02,"v":0.5,"s":11},{"t":9.05,"v":0,"s":11},
{"t":9.3,"v":0,"s":12},{"t":9.32,"v":1.0,"s":12},{"t":9.35,"v":2.2,"s":12},{"t":9.37,"v":1.0,"s":12},{"t":9.4,"v":1.6,"s":12},{"t":9.42,"v":0.5,"s":12},{"t":9.45,"v":1.0,"s":12},{"t":9.48,"v":2.0,"s":12},{"t":9.5,"v":1.2,"s":12},{"t":9.52,"v":2.6,"s":12},{"t":9.55,"v":1.5,"s":12},{"t":9.58,"v":3.0,"s":12},{"t":9.6,"v":2.0,"s":12},{"t":9.62,"v":2.5,"s":12},{"t":9.65,"v":1.2,"s":12},{"t":9.68,"v":1.8,"s":12},{"t":9.7,"v":0.5,"s":12},{"t":9.73,"v":1.5,"s":12},{"t":9.76,"v":1.0,"s":12},{"t":9.78,"v":2.2,"s":12},{"t":9.8,"v":1.5,"s":12},{"t":9.82,"v":3.0,"s":12},{"t":9.84,"v":3.75,"s":12},{"t":9.86,"v":2.5,"s":12},{"t":9.88,"v":3.2,"s":12},{"t":9.9,"v":1.5,"s":12},{"t":9.92,"v":1.0,"s":12},{"t":9.95,"v":0.3,"s":12},{"t":9.98,"v":0.85,"s":12},{"t":10.0,"v":0.3,"s":12},{"t":10.03,"v":0.6,"s":12},{"t":10.06,"v":0,"s":12},
{"t":10.1,"v":0,"s":13},{"t":10.15,"v":-0.3,"s":13},{"t":10.2,"v":0,"s":13},{"t":10.3,"v":-0.6,"s":13},{"t":10.33,"v":0,"s":13},{"t":10.38,"v":-0.3,"s":13},{"t":10.4,"v":0,"s":13},
{"t":10.55,"v":0,"s":14},{"t":10.57,"v":1.0,"s":14},{"t":10.59,"v":1.8,"s":14},{"t":10.61,"v":1.0,"s":14},{"t":10.63,"v":1.6,"s":14},{"t":10.65,"v":0.5,"s":14},{"t":10.68,"v":1.2,"s":14},{"t":10.7,"v":0.3,"s":14},{"t":10.72,"v":1.8,"s":14},{"t":10.74,"v":0.8,"s":14},{"t":10.77,"v":1.2,"s":14},{"t":10.8,"v":0.2,"s":14},{"t":10.83,"v":0.6,"s":14},{"t":10.86,"v":0.4,"s":14},{"t":10.9,"v":-0.5,"s":14},{"t":10.92,"v":-1.0,"s":14},{"t":10.95,"v":-2.4,"s":14},{"t":10.96,"v":-0.6,"s":14},{"t":10.98,"v":-1.2,"s":14},{"t":11.0,"v":-0.6,"s":14},{"t":11.02,"v":-1.5,"s":14},{"t":11.04,"v":-0.8,"s":14},{"t":11.06,"v":-1.6,"s":14},{"t":11.08,"v":-0.9,"s":14},{"t":11.1,"v":-1.2,"s":14},{"t":11.12,"v":-0.6,"s":14},{"t":11.15,"v":-1.4,"s":14},{"t":11.18,"v":-0.7,"s":14},{"t":11.2,"v":-1.8,"s":14},{"t":11.22,"v":-1.0,"s":14},{"t":11.25,"v":-1.9,"s":14},{"t":11.27,"v":-0.5,"s":14},{"t":11.3,"v":0,"s":14},
{"t":11.62,"v":0,"s":15},{"t":11.64,"v":1.5,"s":15},{"t":11.66,"v":2.9,"s":15},{"t":11.68,"v":2.0,"s":15},{"t":11.7,"v":2.5,"s":15},{"t":11.72,"v":1.6,"s":15},{"t":11.74,"v":2.8,"s":15},{"t":11.76,"v":2.0,"s":15},{"t":11.78,"v":3.0,"s":15},{"t":11.8,"v":1.5,"s":15},{"t":11.82,"v":2.4,"s":15},{"t":11.84,"v":1.0,"s":15},{"t":11.86,"v":1.6,"s":15},{"t":11.88,"v":0.8,"s":15},{"t":11.9,"v":1.2,"s":15},{"t":11.93,"v":0.3,"s":15},{"t":11.96,"v":1.0,"s":15},{"t":11.98,"v":5.2,"s":15},{"t":11.99,"v":2.0,"s":15},{"t":12.01,"v":3.2,"s":15},{"t":12.02,"v":0.5,"s":15},{"t":12.05,"v":0,"s":15},
{"t":12.35,"v":0,"s":16},{"t":12.38,"v":-0.3,"s":16},{"t":12.42,"v":0.2,"s":16},{"t":12.45,"v":0,"s":16},
{"t":12.75,"v":0,"s":17},{"t":12.78,"v":-0.5,"s":17},{"t":12.8,"v":-1.8,"s":17},{"t":12.82,"v":-0.8,"s":17},{"t":12.84,"v":-1.2,"s":17},{"t":12.86,"v":-2.0,"s":17},{"t":12.88,"v":-1.0,"s":17},{"t":12.9,"v":-3.5,"s":17},{"t":12.91,"v":-1.5,"s":17},{"t":12.93,"v":3.0,"s":17},{"t":12.94,"v":0.5,"s":17},{"t":12.96,"v":1.5,"s":17},{"t":12.98,"v":0,"s":17},
{"t":13.55,"v":0,"s":18},{"t":13.58,"v":-0.5,"s":18},{"t":13.6,"v":-2.1,"s":18},{"t":13.62,"v":-1.0,"s":18},{"t":13.64,"v":-2.5,"s":18},{"t":13.66,"v":-1.5,"s":18},{"t":13.68,"v":-2.8,"s":18},{"t":13.7,"v":-1.8,"s":18},{"t":13.72,"v":-3.2,"s":18},{"t":13.74,"v":-2.0,"s":18},{"t":13.76,"v":-2.8,"s":18},{"t":13.78,"v":-1.5,"s":18},{"t":13.8,"v":-3.0,"s":18},{"t":13.82,"v":-4.15,"s":18},{"t":13.83,"v":-2.0,"s":18},{"t":13.85,"v":-0.5,"s":18},{"t":13.88,"v":0.5,"s":18},{"t":13.9,"v":-0.2,"s":18},{"t":13.92,"v":0.8,"s":18},{"t":13.95,"v":1.15,"s":18},{"t":13.97,"v":0.3,"s":18},{"t":14.0,"v":0.8,"s":18},{"t":14.02,"v":2.25,"s":18},{"t":14.03,"v":0.3,"s":18},{"t":14.04,"v":-3.4,"s":18},{"t":14.05,"v":-1.0,"s":18},{"t":14.07,"v":0,"s":18},
{"t":14.58,"v":0,"s":19},{"t":14.6,"v":0.5,"s":19},{"t":14.62,"v":-0.5,"s":19},{"t":14.64,"v":-1.2,"s":19},{"t":14.66,"v":-0.5,"s":19},{"t":14.68,"v":-1.5,"s":19},{"t":14.7,"v":-0.3,"s":19},{"t":14.72,"v":0.5,"s":19},{"t":14.74,"v":-2.0,"s":19},{"t":14.76,"v":-5.5,"s":19},{"t":14.77,"v":-1.5,"s":19},{"t":14.78,"v":3.0,"s":19},{"t":14.79,"v":0.5,"s":19},{"t":14.81,"v":-3.4,"s":19},{"t":14.82,"v":-1.0,"s":19},{"t":14.85,"v":0.3,"s":19},{"t":14.88,"v":0,"s":19},
{"t":15.35,"v":0,"s":20},{"t":15.37,"v":0.3,"s":20},{"t":15.4,"v":0,"s":20},
{"t":15.58,"v":0,"s":21},{"t":15.6,"v":1.15,"s":21},{"t":15.62,"v":0.3,"s":21},{"t":15.64,"v":-0.5,"s":21},{"t":15.66,"v":-1.0,"s":21},{"t":15.68,"v":-0.4,"s":21},{"t":15.7,"v":-1.5,"s":21},{"t":15.72,"v":-2.2,"s":21},{"t":15.74,"v":-1.5,"s":21},{"t":15.76,"v":-3.0,"s":21},{"t":15.78,"v":-2.0,"s":21},{"t":15.8,"v":-4.3,"s":21},{"t":15.82,"v":-3.5,"s":21},{"t":15.84,"v":-4.0,"s":21},{"t":15.86,"v":-2.5,"s":21},{"t":15.88,"v":-3.2,"s":21},{"t":15.9,"v":-1.0,"s":21},{"t":15.92,"v":-1.5,"s":21},{"t":15.94,"v":-0.3,"s":21},{"t":15.97,"v":0.5,"s":21},{"t":16.0,"v":0.3,"s":21},{"t":16.03,"v":0,"s":21},
{"t":16.12,"v":0,"s":22},{"t":16.14,"v":0.5,"s":22},{"t":16.16,"v":0,"s":22},
{"t":16.55,"v":0,"s":23},{"t":16.58,"v":0.5,"s":23},{"t":16.6,"v":-0.5,"s":23},{"t":16.62,"v":-1.0,"s":23},{"t":16.64,"v":-0.5,"s":23},{"t":16.66,"v":-1.5,"s":23},{"t":16.68,"v":-0.8,"s":23},{"t":16.7,"v":-1.8,"s":23},{"t":16.72,"v":-1.0,"s":23},{"t":16.74,"v":-1.4,"s":23},{"t":16.76,"v":-0.5,"s":23},{"t":16.78,"v":0.4,"s":23},{"t":16.8,"v":1.15,"s":23},{"t":16.82,"v":0.3,"s":23},{"t":16.85,"v":0.8,"s":23},{"t":16.88,"v":0.2,"s":23},{"t":16.92,"v":0.5,"s":23},{"t":16.95,"v":0,"s":23},
{"t":17.5,"v":0,"s":24},{"t":17.53,"v":0.5,"s":24},{"t":17.56,"v":-0.3,"s":24},{"t":17.6,"v":0.8,"s":24},{"t":17.62,"v":0.2,"s":24},{"t":17.65,"v":1.0,"s":24},{"t":17.68,"v":0.3,"s":24},{"t":17.72,"v":1.3,"s":24},{"t":17.74,"v":0.5,"s":24},{"t":17.76,"v":-1.0,"s":24},{"t":17.78,"v":-2.0,"s":24},{"t":17.8,"v":-1.0,"s":24},{"t":17.82,"v":-2.5,"s":24},{"t":17.84,"v":-4.0,"s":24},{"t":17.85,"v":-1.5,"s":24},{"t":17.87,"v":0.5,"s":24},{"t":17.88,"v":1.25,"s":24},{"t":17.9,"v":0.3,"s":24},{"t":17.93,"v":0,"s":24},
{"t":18.5,"v":0,"s":25},{"t":18.53,"v":0.6,"s":25},{"t":18.56,"v":0.2,"s":25},{"t":18.6,"v":1.45,"s":25},{"t":18.62,"v":0.5,"s":25},{"t":18.65,"v":-0.5,"s":25},{"t":18.68,"v":-1.0,"s":25},{"t":18.7,"v":-0.3,"s":25},{"t":18.73,"v":-1.2,"s":25},{"t":18.76,"v":-1.8,"s":25},{"t":18.78,"v":-1.0,"s":25},{"t":18.8,"v":-2.5,"s":25},{"t":18.82,"v":-1.8,"s":25},{"t":18.84,"v":-3.1,"s":25},{"t":18.86,"v":-2.0,"s":25},{"t":18.88,"v":-4.8,"s":25},{"t":18.89,"v":-2.5,"s":25},{"t":18.91,"v":-3.1,"s":25},{"t":18.93,"v":-1.5,"s":25},{"t":18.95,"v":-1.8,"s":25},{"t":18.97,"v":-0.5,"s":25},{"t":19.0,"v":0.3,"s":25},{"t":19.03,"v":0,"s":25},
{"t":19.6,"v":0,"s":26},{"t":19.63,"v":0.5,"s":26},{"t":19.65,"v":-0.3,"s":26},{"t":19.68,"v":-1.0,"s":26},{"t":19.7,"v":-1.8,"s":26},{"t":19.72,"v":-1.0,"s":26},{"t":19.74,"v":-1.5,"s":26},{"t":19.76,"v":-0.6,"s":26},{"t":19.78,"v":-2.0,"s":26},{"t":19.8,"v":-3.5,"s":26},{"t":19.82,"v":-4.5,"s":26},{"t":19.84,"v":-6.2,"s":26},{"t":19.85,"v":-3.5,"s":26},{"t":19.87,"v":-2.5,"s":26},{"t":19.89,"v":-1.0,"s":26},{"t":19.91,"v":-1.8,"s":26},{"t":19.93,"v":-0.5,"s":26},{"t":19.95,"v":-1.7,"s":26},{"t":19.97,"v":0.5,"s":26},{"t":19.99,"v":1.15,"s":26},{"t":20.0,"v":0.3,"s":26},{"t":20.02,"v":0.9,"s":26},{"t":20.04,"v":0,"s":26},
{"t":20.55,"v":0,"s":27},{"t":20.58,"v":0.5,"s":27},{"t":20.6,"v":-0.3,"s":27},{"t":20.63,"v":0.7,"s":27},{"t":20.66,"v":-0.8,"s":27},{"t":20.68,"v":-0.3,"s":27},{"t":20.7,"v":-1.2,"s":27},{"t":20.72,"v":0.3,"s":27},{"t":20.75,"v":-0.8,"s":27},{"t":20.77,"v":-1.8,"s":27},{"t":20.79,"v":-2.8,"s":27},{"t":20.8,"v":-2.0,"s":27},{"t":20.82,"v":-3.2,"s":27},{"t":20.84,"v":-5.1,"s":27},{"t":20.85,"v":-2.5,"s":27},{"t":20.87,"v":-1.5,"s":27},{"t":20.9,"v":0.2,"s":27},{"t":20.92,"v":0.5,"s":27},{"t":20.95,"v":0,"s":27},
{"t":21.5,"v":0,"s":28},{"t":21.52,"v":1.15,"s":28},{"t":21.54,"v":0.3,"s":28},{"t":21.56,"v":0.8,"s":28},{"t":21.58,"v":-0.5,"s":28},{"t":21.6,"v":0.6,"s":28},{"t":21.63,"v":1.3,"s":28},{"t":21.65,"v":0.3,"s":28},{"t":21.68,"v":1.8,"s":28},{"t":21.7,"v":0.5,"s":28},{"t":21.72,"v":1.2,"s":28},{"t":21.74,"v":-0.4,"s":28},{"t":21.76,"v":1.5,"s":28},{"t":21.78,"v":0.6,"s":28},{"t":21.8,"v":2.0,"s":28},{"t":21.82,"v":0.8,"s":28},{"t":21.85,"v":1.0,"s":28},{"t":21.88,"v":2.2,"s":28},{"t":21.9,"v":0.8,"s":28},{"t":21.93,"v":2.85,"s":28},{"t":21.94,"v":1.0,"s":28},{"t":21.96,"v":0.5,"s":28},{"t":21.98,"v":1.9,"s":28},{"t":22.0,"v":0.3,"s":28},{"t":22.04,"v":0.5,"s":28},{"t":22.07,"v":0,"s":28},
{"t":22.6,"v":0,"s":29},{"t":22.63,"v":0.6,"s":29},{"t":22.66,"v":0.2,"s":29},{"t":22.7,"v":0.8,"s":29},{"t":22.72,"v":0.3,"s":29},{"t":22.75,"v":1.2,"s":29},{"t":22.78,"v":0.5,"s":29},{"t":22.8,"v":1.4,"s":29},{"t":22.82,"v":0.8,"s":29},{"t":22.85,"v":1.75,"s":29},{"t":22.87,"v":1.0,"s":29},{"t":22.88,"v":-1.0,"s":29},{"t":22.9,"v":-3.5,"s":29},{"t":22.92,"v":-6.2,"s":29},{"t":22.93,"v":-4.0,"s":29},{"t":22.94,"v":-1.5,"s":29},{"t":22.96,"v":-0.5,"s":29},{"t":22.98,"v":0,"s":29},
{"t":23.5,"v":0,"s":30},{"t":23.52,"v":1.0,"s":30},{"t":23.55,"v":1.75,"s":30},{"t":23.57,"v":0.8,"s":30},{"t":23.6,"v":0.4,"s":30},{"t":23.63,"v":1.0,"s":30},{"t":23.65,"v":-0.6,"s":30},{"t":23.67,"v":0.5,"s":30},{"t":23.7,"v":-0.2,"s":30},{"t":23.72,"v":1.1,"s":30},{"t":23.75,"v":-0.5,"s":30},{"t":23.77,"v":0.5,"s":30},{"t":23.8,"v":-1.5,"s":30},{"t":23.82,"v":-4.0,"s":30},{"t":23.83,"v":-2.0,"s":30},{"t":23.85,"v":1.5,"s":30},{"t":23.87,"v":5.5,"s":30},{"t":23.88,"v":1.0,"s":30},{"t":23.9,"v":-2.0,"s":30},{"t":23.91,"v":-0.5,"s":30},{"t":23.93,"v":1.7,"s":30},{"t":23.95,"v":0.3,"s":30},{"t":23.98,"v":-0.8,"s":30},{"t":24.0,"v":0.5,"s":30},{"t":24.03,"v":0,"s":30},
{"t":24.25,"v":0,"s":31},{"t":24.27,"v":-1.0,"s":31},{"t":24.29,"v":0,"s":31},
{"t":24.7,"v":0,"s":32},{"t":24.72,"v":0.5,"s":32},{"t":24.75,"v":-0.3,"s":32},{"t":24.78,"v":1.3,"s":32},{"t":24.8,"v":0.3,"s":32},{"t":24.83,"v":1.0,"s":32},{"t":24.85,"v":-0.5,"s":32},{"t":24.87,"v":2.0,"s":32},{"t":24.9,"v":5.85,"s":32},{"t":24.91,"v":1.0,"s":32},{"t":24.93,"v":-1.0,"s":32},{"t":24.95,"v":2.0,"s":32},{"t":24.96,"v":0.3,"s":32},{"t":24.98,"v":1.5,"s":32},{"t":24.99,"v":-0.5,"s":32},{"t":25.01,"v":2.0,"s":32},{"t":25.03,"v":4.75,"s":32},{"t":25.04,"v":1.0,"s":32},{"t":25.06,"v":-1.6,"s":32},{"t":25.07,"v":0.2,"s":32},{"t":25.1,"v":0,"s":32},
{"t":25.7,"v":0,"s":33},{"t":25.72,"v":0.3,"s":33},{"t":25.74,"v":-0.5,"s":33},{"t":25.76,"v":-1.0,"s":33},{"t":25.78,"v":-0.5,"s":33},{"t":25.8,"v":-1.5,"s":33},{"t":25.82,"v":-0.8,"s":33},{"t":25.84,"v":-1.8,"s":33},{"t":25.86,"v":-1.0,"s":33},{"t":25.88,"v":-1.2,"s":33},{"t":25.9,"v":-0.3,"s":33},{"t":25.92,"v":0.8,"s":33},{"t":25.94,"v":2.5,"s":33},{"t":25.96,"v":4.1,"s":33},{"t":25.97,"v":1.5,"s":33},{"t":25.99,"v":2.8,"s":33},{"t":26.0,"v":0.5,"s":33},{"t":26.03,"v":0,"s":33},
{"t":26.6,"v":0,"s":34},{"t":26.62,"v":0.5,"s":34},{"t":26.64,"v":0.2,"s":34},{"t":26.66,"v":1.0,"s":34},{"t":26.68,"v":0.3,"s":34},{"t":26.7,"v":1.9,"s":34},{"t":26.72,"v":0.5,"s":34},{"t":26.74,"v":1.0,"s":34},{"t":26.76,"v":-0.5,"s":34},{"t":26.78,"v":-1.0,"s":34},{"t":26.8,"v":-2.3,"s":34},{"t":26.81,"v":-0.8,"s":34},{"t":26.84,"v":0.3,"s":34},{"t":26.87,"v":0,"s":34},
{"t":27.6,"v":0,"s":35},{"t":27.63,"v":0.3,"s":35},{"t":27.66,"v":0.8,"s":35},{"t":27.68,"v":0.2,"s":35},{"t":27.7,"v":1.2,"s":35},{"t":27.72,"v":0.5,"s":35},{"t":27.74,"v":0.8,"s":35},{"t":27.76,"v":-0.3,"s":35},{"t":27.78,"v":0.4,"s":35},{"t":27.8,"v":-0.2,"s":35},{"t":27.85,"v":0.2,"s":35},{"t":27.9,"v":0.5,"s":35},{"t":27.95,"v":0.2,"s":35},{"t":28.0,"v":0.8,"s":35},{"t":28.02,"v":0.3,"s":35},{"t":28.05,"v":2.1,"s":35},{"t":28.06,"v":0.5,"s":35},{"t":28.09,"v":0,"s":35},
{"t":28.55,"v":0,"s":36},{"t":28.58,"v":0.8,"s":36},{"t":28.6,"v":0.2,"s":36},{"t":28.62,"v":1.3,"s":36},{"t":28.64,"v":0.3,"s":36},{"t":28.66,"v":0.8,"s":36},{"t":28.68,"v":-0.3,"s":36},{"t":28.7,"v":0.5,"s":36},{"t":28.72,"v":-0.8,"s":36},{"t":28.74,"v":-3.2,"s":36},{"t":28.75,"v":-1.0,"s":36},{"t":28.78,"v":-1.5,"s":36},{"t":28.8,"v":0.5,"s":36},{"t":28.82,"v":-0.3,"s":36},{"t":28.85,"v":-1.0,"s":36},{"t":28.87,"v":0.3,"s":36},{"t":28.9,"v":1.5,"s":36},{"t":28.92,"v":3.0,"s":36},{"t":28.94,"v":5.2,"s":36},{"t":28.95,"v":2.0,"s":36},{"t":28.97,"v":0.5,"s":36},{"t":29.0,"v":0,"s":36}
],
"vm":[
{"t":0,"v":0},{"t":0.01,"v":-3.65},{"t":0.02,"v":0},{"t":0.03,"v":-3.65},{"t":0.04,"v":0},{"t":0.05,"v":-3.65},{"t":0.06,"v":0},{"t":0.07,"v":-3.6},{"t":0.08,"v":0},{"t":0.09,"v":-3.5},{"t":0.1,"v":0},{"t":0.11,"v":-3.3},{"t":0.12,"v":0},{"t":0.13,"v":-2.5},{"t":0.14,"v":0},{"t":0.15,"v":-1.5},{"t":0.16,"v":0},{"t":0.17,"v":-0.8},{"t":0.18,"v":0},{"t":0.45,"v":0},{"t":0.49,"v":-0.3},{"t":0.75,"v":-0.25},{"t":0.96,"v":-0.28},{"t":1.2,"v":-0.2},{"t":1.47,"v":-0.15},{"t":1.75,"v":-0.12},{"t":1.99,"v":-0.1},{"t":2.15,"v":-0.15},{"t":2.29,"v":-0.28},{"t":2.4,"v":-0.1},{"t":2.5,"v":-0.03},{"t":2.75,"v":0.0},{"t":3.01,"v":0.03},{"t":3.3,"v":0.1},{"t":3.53,"v":0.22},{"t":3.8,"v":0.2},{"t":4.04,"v":0.28},{"t":4.35,"v":0.34},{"t":4.56,"v":-0.06},{"t":4.87,"v":-0.15},{"t":5.05,"v":-0.05},{"t":5.28,"v":0.03},{"t":5.5,"v":0.15},{"t":5.69,"v":0.22},{"t":6.1,"v":0.25},{"t":6.41,"v":0.4},{"t":6.7,"v":0.35},{"t":7.03,"v":0.4},{"t":7.34,"v":0.84},{"t":7.55,"v":0.8},{"t":7.75,"v":0.84},{"t":8.0,"v":0.8},{"t":8.26,"v":0.9},{"t":8.57,"v":1.47},{"t":8.88,"v":1.53},{"t":9.19,"v":1.75},{"t":9.39,"v":1.6},{"t":9.6,"v":1.03},{"t":9.8,"v":1.0},{"t":9.96,"v":0.97},{"t":10.26,"v":0.5},{"t":10.46,"v":0.2},{"t":10.75,"v":0.1},{"t":10.98,"v":0.0},{"t":11.2,"v":0.05},{"t":11.49,"v":0.3},{"t":11.8,"v":0.55},{"t":12.11,"v":0.6},{"t":12.42,"v":0.1},{"t":12.72,"v":0.0},{"t":13.03,"v":-0.1},{"t":13.34,"v":-0.4},{"t":13.65,"v":-0.55},{"t":14.06,"v":-0.55},{"t":14.27,"v":-0.35},{"t":14.68,"v":-0.2},{"t":15.09,"v":-0.15},{"t":15.29,"v":-0.05},{"t":15.5,"v":-0.2},{"t":15.8,"v":-0.2},{"t":16.12,"v":-0.25},{"t":16.32,"v":-0.45},{"t":16.53,"v":-0.2},{"t":16.8,"v":-0.22},{"t":17.14,"v":-0.25},{"t":17.35,"v":-0.05},{"t":17.7,"v":-0.1},{"t":18.17,"v":-0.15},{"t":18.68,"v":-0.45},{"t":19.2,"v":-0.45},{"t":19.4,"v":-0.6},{"t":19.61,"v":-0.4},{"t":19.9,"v":-0.42},{"t":20.12,"v":-0.4},{"t":20.46,"v":-0.35},{"t":20.98,"v":-0.38},{"t":21.28,"v":-0.28},{"t":21.49,"v":0.13},{"t":22.0,"v":0.22},{"t":22.42,"v":0.22},{"t":22.62,"v":-0.13},{"t":23.03,"v":-0.16},{"t":23.44,"v":-0.16},{"t":23.55,"v":0.1},{"t":24.06,"v":0.1},{"t":24.57,"v":0.16},{"t":25.09,"v":0.16},{"t":25.6,"v":0.1},{"t":26.1,"v":0.1},{"t":26.6,"v":0.1},{"t":27.14,"v":0.03},{"t":27.66,"v":0.1},{"t":28.17,"v":0.1},{"t":28.68,"v":0.13},{"t":29.2,"v":0.16},{"t":29.4,"v":0.28},
{"t":29.45,"v":0.3},{"t":29.46,"v":-0.3},{"t":29.47,"v":0.6},{"t":29.48,"v":-0.5},{"t":29.49,"v":0.9},{"t":29.5,"v":-0.6},{"t":29.51,"v":1.2},{"t":29.52,"v":-0.65},{"t":29.53,"v":1.5},{"t":29.54,"v":-0.65},{"t":29.55,"v":1.8},{"t":29.56,"v":-0.65},{"t":29.57,"v":2.0},{"t":29.58,"v":-0.65},{"t":29.59,"v":2.2},{"t":29.6,"v":-0.65},{"t":29.61,"v":2.4},{"t":29.62,"v":-0.65},{"t":29.63,"v":2.5},{"t":29.64,"v":-0.65},{"t":29.65,"v":2.6},{"t":29.66,"v":-0.65},{"t":29.67,"v":2.7},{"t":29.68,"v":-0.65},{"t":29.69,"v":2.75},{"t":29.7,"v":-0.65},{"t":29.71,"v":2.8},{"t":29.72,"v":-0.65},{"t":29.73,"v":2.8},{"t":29.74,"v":-0.65},{"t":29.75,"v":2.85},{"t":29.76,"v":-0.65},{"t":29.77,"v":2.85},{"t":29.78,"v":-0.65},{"t":29.79,"v":2.85},{"t":29.8,"v":-5.4},{"t":29.81,"v":2.85},{"t":29.82,"v":-5.4},{"t":29.83,"v":2.85},{"t":29.84,"v":-5.4},{"t":29.85,"v":2.85},{"t":29.86,"v":-5.4},{"t":29.87,"v":2.85},{"t":29.88,"v":-5.4},{"t":29.89,"v":2.85},{"t":29.9,"v":-5.4},{"t":29.91,"v":2.85},{"t":29.92,"v":-5.4},{"t":29.93,"v":2.85},{"t":29.94,"v":-5.4},{"t":29.95,"v":2.85},{"t":29.96,"v":-5.4},{"t":29.97,"v":2.85},{"t":29.98,"v":-5.4},{"t":29.99,"v":2.85},{"t":30.0,"v":0.3}
]
},
"vconcat":[
{
"width":974,"height":155,
"title":{"text":"Componente zonal","font":"DejaVu Sans","fontSize":16,"fontWeight":"normal","color":"#000","anchor":"start","frame":"group","dx":48,"offset":5},
"layer":[
{"data":{"values":[{"z":0}]},"mark":{"type":"rule","color":"#999999","strokeWidth":1.2},
"encoding":{"y":{"field":"z","type":"quantitative","scale":{"domain":[-8.35,8.35],"nice":false,"zero":false},"axis":{"orient":"right","values":[-5,0,5],"labels":false,"title":null,"tickSize":-9,"ticks":true}}}},
{"data":{"name":"ub"},"mark":{"type":"line","color":"#0000ff","strokeWidth":1.15,"clip":true},
"encoding":{"x":{"field":"t","type":"quantitative","scale":{"domain":[0,30],"nice":false,"zero":false},"axis":{"orient":"bottom","values":[1,2,3,4,5,6,7,8,9,10,11,12,13,14,15,16,17,18,19,20,21,22,23,24,25,26,27,28,29],"labels":false,"title":null,"tickSize":-6}},
"y":{"field":"u","type":"quantitative","scale":{"domain":[-8.35,8.35],"nice":false,"zero":false},"axis":{"orient":"left","values":[-5,0,5],"title":"m/s","titleFontSize":12,"titleFontWeight":"normal","titlePadding":13,"labelFontSize":12,"tickSize":-9,"labelPadding":19}},
"detail":{"field":"s","type":"nominal"}}},
{"data":{"name":"um"},"mark":{"type":"line","color":"#000000","strokeWidth":3,"clip":true},
"encoding":{"x":{"field":"t","type":"quantitative","scale":{"domain":[0,30],"nice":false,"zero":false},"axis":{"orient":"top","values":[1,2,3,4,5,6,7,8,9,10,11,12,13,14,15,16,17,18,19,20,21,22,23,24,25,26,27,28,29],"labels":false,"title":null,"tickSize":-6}},
"y":{"field":"u","type":"quantitative","scale":{"domain":[-8.35,8.35],"nice":false,"zero":false},"axis":null}}}
],
"resolve":{"axis":{"x":"independent","y":"independent"}}
},
{
"width":974,"height":155,
"title":{"text":"Componente meridional","font":"DejaVu Sans","fontSize":16,"fontWeight":"normal","color":"#000","anchor":"start","frame":"group","dx":48,"offset":5},
"layer":[
{"data":{"values":[{"z":0}]},"mark":{"type":"rule","color":"#000000","strokeWidth":1},
"encoding":{"y":{"field":"z","type":"quantitative","scale":{"domain":[-7.25,7.25],"nice":false,"zero":false},"axis":{"orient":"right","values":[-6,-4,-2,0,2,4,6],"labels":false,"title":null,"tickSize":-9,"ticks":true}}}},
{"data":{"name":"vb"},"mark":{"type":"line","color":"#0000ff","strokeWidth":1.15,"clip":true},
"encoding":{"x":{"field":"t","type":"quantitative","scale":{"domain":[0,30],"nice":false,"zero":false},"axis":{"orient":"bottom","values":[1,2,3,4,5,6,7,8,9,10,11,12,13,14,15,16,17,18,19,20,21,22,23,24,25,26,27,28,29,30],"title":null,"tickSize":-6,"labelPadding":10,"labelFontSize":13,"labelFlush":false}},
"y":{"field":"v","type":"quantitative","scale":{"domain":[-7.25,7.25],"nice":false,"zero":false},"axis":{"orient":"left","values":[-6,-4,-2,0,2,4,6],"title":"m/s","titleFontSize":12,"titleFontWeight":"normal","titlePadding":13,"labelFontSize":12,"tickSize":-9,"labelPadding":19}},
"detail":{"field":"s","type":"nominal"}}},
{"data":{"name":"vm"},"mark":{"type":"line","color":"#000000","strokeWidth":3,"clip":true},
"encoding":{"x":{"field":"t","type":"quantitative","scale":{"domain":[0,30],"nice":false,"zero":false},"axis":{"orient":"top","values":[1,2,3,4,5,6,7,8,9,10,11,12,13,14,15,16,17,18,19,20,21,22,23,24,25,26,27,28,29],"labels":false,"title":null,"tickSize":-6}},
"y":{"field":"v","type":"quantitative","scale":{"domain":[-7.25,7.25],"nice":false,"zero":false},"axis":null}}}
],
"resolve":{"axis":{"x":"independent","y":"independent"}}
}
]
}
